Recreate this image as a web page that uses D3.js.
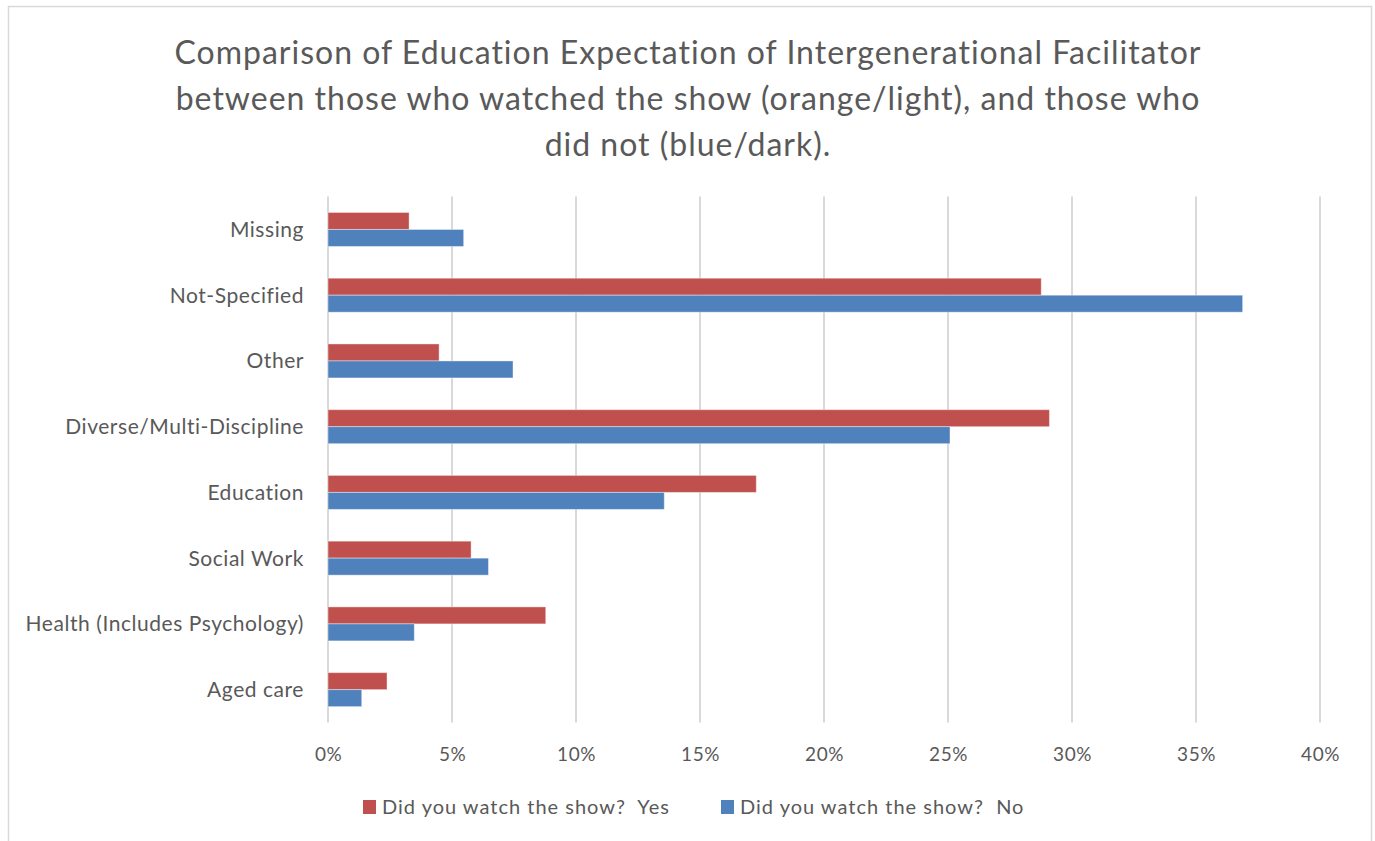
<!DOCTYPE html>
<html>
<head>
<meta charset="utf-8">
<script src="https://cdn.jsdelivr.net/npm/d3@7"></script>
<style>
  html, body { margin: 0; padding: 0; background: #fff; }
  svg { display: block; font-family: Lato, "Open Sans", sans-serif; font-variant-ligatures: none; }
  text { white-space: pre; }
</style>
</head>
<body>
<svg id="chart" width="1375" height="841"></svg>
<script>
// Education fields, top to bottom
const categories = [
  "Missing",
  "Not-Specified",
  "Other",
  "Diverse/Multi-Discipline",
  "Education",
  "Social Work",
  "Health (Includes Psychology)",
  "Aged care"
];
// Share of respondents (%) who watched the show
const watchedYes = [3.27, 28.76, 4.48, 29.09, 17.27, 5.77, 8.78, 2.38];
// Share of respondents (%) who did not watch the show
const watchedNo = [5.47, 36.88, 7.46, 25.08, 13.56, 6.47, 3.48, 1.36];

const seriesNames = ["Did you watch the show?  Yes", "Did you watch the show?  No"];
const seriesColors = ["#C0504D", "#4F81BD"];
const xTicks = [0, 5, 10, 15, 20, 25, 30, 35, 40];
const titleLines = [
  "Comparison of Education Expectation of Intergenerational Facilitator",
  "between those who watched the show (orange/light), and those who",
  "did not (blue/dark)."
];

const svg = d3.select("#chart");
const textColor = "#595959";
const gridColor = "#D9D9D9";

// outer chart frame
svg.append("rect")
  .attr("x", 8.5).attr("y", 6.5)
  .attr("width", 1363).attr("height", 860)
  .attr("fill", "#fff").attr("stroke", gridColor).attr("stroke-width", 1.5);

// title
const title = svg.append("text")
  .attr("text-anchor", "middle")
  .attr("fill", textColor)
  .attr("font-size", 32)
  .attr("letter-spacing", 1);
titleLines.forEach((line, i) => {
  title.append("tspan")
    .attr("x", 688)
    .attr("y", 64 + i * 46)
    .text(line);
});

// plot area
const plot = { left: 328, right: 1320, top: 196.6, bottom: 722.5 };

const x = d3.scaleLinear().domain([0, 40]).range([plot.left, plot.right]);
const y = d3.scaleBand()
  .domain(categories)
  .range([plot.top, plot.bottom])
  .paddingInner(0.483)
  .paddingOuter(0.2415);
const ySeries = d3.scaleBand().domain([0, 1]).range([0, y.bandwidth()]);

// vertical gridlines
svg.append("g")
  .selectAll("line")
  .data(xTicks)
  .join("line")
  .attr("x1", d => x(d)).attr("x2", d => x(d))
  .attr("y1", plot.top).attr("y2", plot.bottom)
  .attr("stroke", gridColor).attr("stroke-width", 2);

// x-axis tick labels
const xAxis = d3.axisBottom(x)
  .tickValues(xTicks)
  .tickFormat(d => d + "%")
  .tickSize(0)
  .tickPadding(0);
const xg = svg.append("g")
  .attr("transform", `translate(0,${plot.bottom})`)
  .call(xAxis);
xg.select(".domain").remove();
xg.selectAll("text")
  .attr("y", 38)
  .attr("dy", null)
  .attr("fill", textColor)
  .attr("font-size", 19)
  .attr("letter-spacing", 0.5)
  .attr("font-family", "Lato, 'Open Sans', sans-serif");

// category labels
const yAxis = d3.axisLeft(y).tickSize(0).tickPadding(0);
const yg = svg.append("g")
  .attr("transform", `translate(${plot.left - 24},0)`)
  .call(yAxis);
yg.select(".domain").remove();
yg.selectAll("text")
  .attr("fill", textColor)
  .attr("font-size", 21)
  .attr("letter-spacing", 0.55)
  .attr("dy", "0.35em")
  .attr("font-family", "Lato, 'Open Sans', sans-serif");

// bars
const rows = categories.map((c, i) => ({ cat: c, values: [watchedYes[i], watchedNo[i]] }));
const groups = svg.append("g")
  .selectAll("g")
  .data(rows)
  .join("g")
  .attr("transform", d => `translate(0,${y(d.cat)})`);
groups.selectAll("rect")
  .data(d => d.values.map((v, s) => ({ v, s })))
  .join("rect")
  .attr("x", x(0))
  .attr("y", d => ySeries(d.s))
  .attr("width", d => x(d.v) - x(0))
  .attr("height", ySeries.bandwidth())
  .attr("fill", d => seriesColors[d.s])
  .attr("stroke", "#fff")
  .attr("stroke-opacity", 0.4)
  .attr("stroke-width", 1);

// legend
const legendX = [363, 721];
const legend = svg.append("g")
  .selectAll("g")
  .data(seriesNames)
  .join("g")
  .attr("transform", (d, i) => `translate(${legendX[i]},800)`);
legend.append("rect")
  .attr("width", 13).attr("height", 14)
  .attr("fill", (d, i) => seriesColors[i]);
legend.append("text")
  .attr("x", 19).attr("y", 7)
  .attr("dy", "0.35em")
  .attr("fill", textColor)
  .attr("font-size", 20)
  .attr("letter-spacing", 1)
  .text(d => d);
</script>
</body>
</html>
